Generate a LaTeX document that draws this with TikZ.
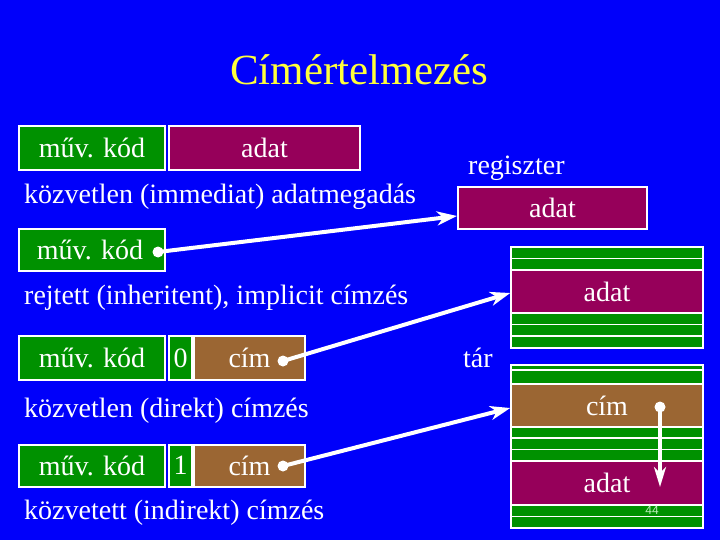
\documentclass[tikz,border=0pt]{standalone}
\usepackage{fontspec}
\setmainfont{Liberation Serif}
\newfontfamily\smallsans{Liberation Sans}
\usetikzlibrary{arrows.meta,calc}
\definecolor{bg}{RGB}{0,0,250}
\definecolor{kgreen}{RGB}{0,145,0}
\definecolor{kpurple}{RGB}{150,0,90}
\definecolor{kbrown}{RGB}{155,102,51}
\definecolor{ktitle}{RGB}{255,255,60}
\definecolor{kpage}{RGB}{190,240,190}
\begin{document}
\begin{tikzpicture}[x=1pt,y=-1pt,
  txt/.style={text=white, font=\fontsize{28}{30}\selectfont, inner sep=0pt},
  cell/.style={txt, draw=white, line width=2pt},
  memcell/.style={cell, line width=1.5pt, minimum width=192pt},
  stripe/.style={fill=kgreen, draw=white, line width=1.5pt},
  dot/.style={circle, fill=white, inner sep=0pt, minimum size=11pt},
  conn/.style={draw=white, line width=4pt, -{Stealth[length=20pt,width=14pt,inset=6pt]}},
  vconn/.style={draw=white, line width=3.5pt, -{Stealth[length=20pt,width=12pt,inset=6pt]}}
]
\useasboundingbox (0,0) rectangle (720,540);
\fill[bg] (0,0) rectangle (720,540);

% title
\node[anchor=base, text=ktitle, font=\fontsize{43}{46}\selectfont, inner sep=0pt] (title) at (359,85) {Címértelmezés};

% row 1: immediate
\node[cell, fill=kgreen, minimum width=146pt, minimum height=44pt] (kod1) at (92,148) {műv. kód};
\node[cell, fill=kpurple, minimum width=191pt, minimum height=44pt] (adat1) at (264.5,148) {adat};
\node[txt, anchor=base west] (lab1) at (24,204) {közvetlen (immediat) adatmegadás};

% register
\node[txt, anchor=base west] (reglab) at (468,175) {regiszter};
\node[cell, fill=kpurple, minimum width=189pt, minimum height=42pt] (reg) at (552.5,208) {adat};

% row 2: implicit
\node[cell, fill=kgreen, minimum width=146pt, minimum height=42pt] (kod2) at (92,250) {};
\node[txt] (kod2t) at (90,250) {műv. kód};
\node[dot] (d2) at (158,252) {};
\node[txt, anchor=base west] (lab2) at (24,304) {rejtett (inheritent), implicit címzés};

% row 3: direct
\node[cell, fill=kgreen, minimum width=146pt, minimum height=44pt] (kod3) at (92,358) {műv. kód};
\node[cell, fill=kgreen, minimum width=23pt, minimum height=44pt] (z3) at (180.5,358) {0};
\node[cell, fill=kbrown, minimum width=111pt, minimum height=44pt] (c3) at (249.5,358) {cím};
\node[dot] (d3) at (283,361) {};
\node[txt, anchor=base west] (lab3) at (24,417) {közvetlen (direkt) címzés};

% row 4: indirect
\node[cell, fill=kgreen, minimum width=146pt, minimum height=42pt] (kod4) at (92,465.5) {műv. kód};
\node[cell, fill=kgreen, minimum width=23pt, minimum height=42pt] (z4) at (180.5,465.5) {1};
\node[cell, fill=kbrown, minimum width=111pt, minimum height=42pt] (c4) at (249.5,465.5) {cím};
\node[dot] (d4) at (283,466) {};
\node[txt, anchor=base west] (lab4) at (24,519) {közvetett (indirekt) címzés};

% memory label
\node[txt, anchor=base west] (tar) at (463,367) {tár};

% memory block 1
\path[stripe] (511,247) rectangle (703,258.5);
\path[stripe] (511,258.5) rectangle (703,270);
\node[memcell, fill=kpurple, minimum height=43pt] (madat1) at (607,291.5) {adat};
\path[stripe] (511,313) rectangle (703,324.5);
\path[stripe] (511,324.5) rectangle (703,336);
\path[stripe] (511,336) rectangle (703,348);

% memory block 2
\path[stripe] (511,365) rectangle (703,370);
\path[stripe] (511,370) rectangle (703,384);
\node[memcell, fill=kbrown, minimum height=43pt] (mcim) at (607,405.5) {cím};
\path[stripe] (511,427) rectangle (703,438);
\path[stripe] (511,438) rectangle (703,449.5);
\path[stripe] (511,449.5) rectangle (703,461);
\node[memcell, fill=kpurple, minimum height=44pt] (madat2) at (607,483) {adat};
\path[stripe] (511,505) rectangle (703,516.5);
\path[stripe] (511,516.5) rectangle (703,528);
\node[font=\smallsans\fontsize{12}{12}\selectfont, text=kpage, inner sep=0pt] (pg) at (652,510) {44};

% memory pointer
\node[dot] (dm) at (660,407) {};
\coordinate (dmend) at (660,487);

% connectors
\draw[conn] (d2.center) -- ([yshift=-8pt]reg.west);
\draw[conn] (d3.center) -- ([yshift=-1.5pt]madat1.west);
\draw[conn] (d4.center) -- ([yshift=-2.5pt]mcim.west);
\draw[vconn] (dm.center) -- (dmend);
\end{tikzpicture}
\end{document}
